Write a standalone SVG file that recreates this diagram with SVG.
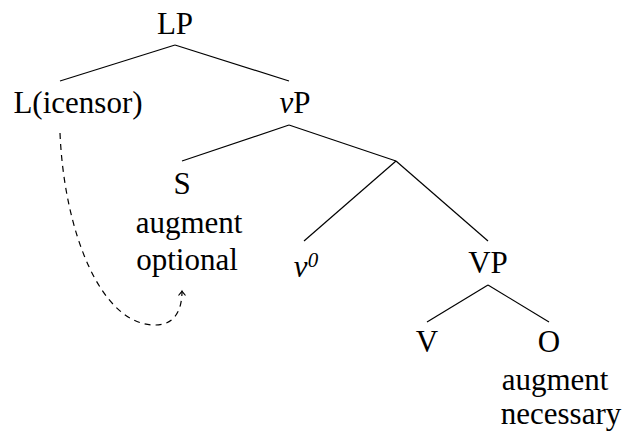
<svg xmlns="http://www.w3.org/2000/svg" width="627" height="434" viewBox="0 0 627 434">
<defs>
<style>
text{font-family:"Liberation Serif","Times New Roman",serif;font-size:31px;fill:#000;text-anchor:middle}
.it{font-style:italic}
.e{stroke:#000;stroke-width:1.2;fill:none}
.d{stroke:#000;stroke-width:1.2;fill:none;stroke-dasharray:6 5}
</style>
<marker id="arr" viewBox="-6 -5 8 10" markerWidth="8" markerHeight="10" refX="0" refY="0" orient="auto" markerUnits="userSpaceOnUse">
<path d="M-4.5,-3.5 Q-1,-0.5 0,0 Q-1,0.5 -4.5,3.5" fill="none" stroke="#000" stroke-width="1.1"/>
</marker>
</defs>
<rect width="627" height="434" fill="#fff"/>
<g id="connectors">
<line class="e" x1="175" y1="45" x2="60" y2="81"/>
<line class="e" x1="175" y1="45" x2="289" y2="81"/>
<line class="e" x1="289" y1="125" x2="182" y2="161"/>
<line class="e" x1="289" y1="125" x2="396" y2="161"/>
<line class="e" x1="396" y1="161" x2="304" y2="241"/>
<line class="e" x1="396" y1="161" x2="488" y2="241"/>
<line class="e" x1="488" y1="285" x2="427" y2="322"/>
<line class="e" x1="488" y1="285" x2="549" y2="322"/>
<path class="d" d="M60 133 C64 230 100 325 155 325 C175 325 182 310 182 291" marker-end="url(#arr)"/>
</g>
<g id="LP"><text x="175" y="34">LP</text></g>
<g id="L"><text x="78" y="113">L(icensor)</text></g>
<g id="vP"><text x="295" y="113"><tspan class="it">v</tspan>P</text></g>
<g id="S"><text x="182" y="194">S</text><text x="189" y="233">augment</text><text x="187" y="270">optional</text></g>
<g id="v0"><text x="306" y="277" class="it">v<tspan font-size="21" dy="-10">0</tspan></text></g>
<g id="VP"><text x="488" y="273">VP</text></g>
<g id="V"><text x="427" y="352">V</text></g>
<g id="O"><text x="549" y="352">O</text><text x="555" y="390">augment</text><text x="561" y="424">necessary</text></g>
</svg>
